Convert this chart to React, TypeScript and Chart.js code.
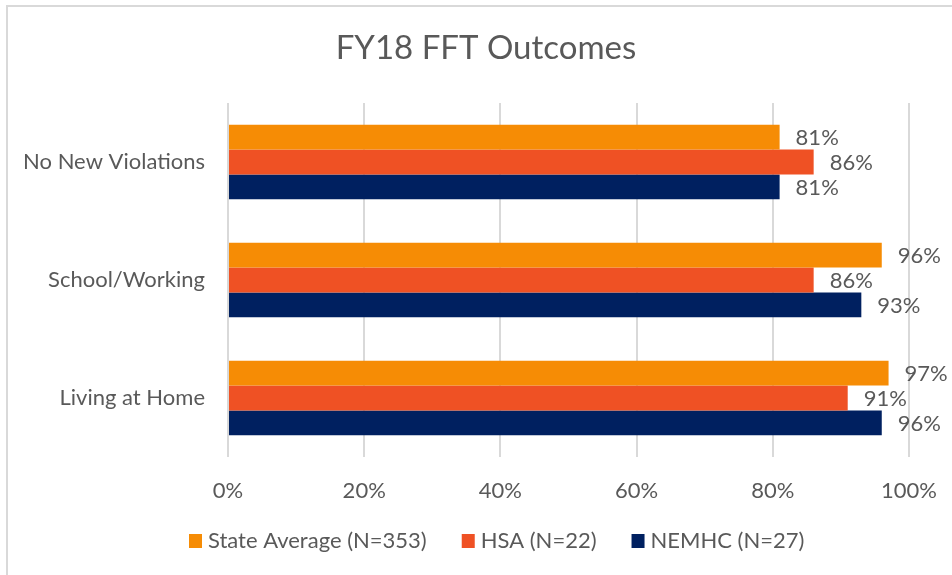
import React, { useEffect, useRef } from "react";
import { Chart, registerables } from "chart.js";

Chart.register(...registerables);

const title = "FY18 FFT Outcomes";
const categories = ["No New Violations", "School/Working", "Living at Home"];
const seriesNames = ["State Average (N=353)", "HSA (N=22)", "NEMHC (N=27)"];
const stateAverage = [81, 96, 97];
const hsa = [86, 86, 91];
const nemhc = [81, 93, 96];
const colors = ["#F68C05", "#EF5124", "#002060"];
const xTicks = [0, 20, 40, 60, 80, 100];

const FONT = "Lato, 'Noto Sans', sans-serif";
const TEXT = "#595959";

const overlay = {
  id: "overlay",
  afterDraw(chart: any) {
    const ctx = chart.ctx;
    ctx.save();
    // frame
    ctx.strokeStyle = "#D9D9D9";
    ctx.lineWidth = 2;
    ctx.beginPath();
    ctx.moveTo(7, 575);
    ctx.lineTo(7, 6);
    ctx.lineTo(952, 6);
    ctx.stroke();
    // title
    ctx.fillStyle = TEXT;
    ctx.font = `33px ${FONT}`;
    ctx.textAlign = "center";
    ctx.textBaseline = "middle";
    ctx.fillText(title, 486, 48);
    // data labels
    ctx.font = `22px ${FONT}`;
    ctx.textAlign = "left";
    ctx.fillStyle = TEXT;
    chart.data.datasets.forEach((ds: any, di: number) => {
      const meta = chart.getDatasetMeta(di);
      meta.data.forEach((bar: any, i: number) => {
        ctx.fillText(ds.data[i] + "%", bar.x + 16, bar.y + 1);
      });
    });
    // legend
    let x = 189;
    const y = 541;
    chart.data.datasets.forEach((ds: any) => {
      ctx.fillStyle = ds.backgroundColor;
      ctx.fillRect(x, y - 7, 13, 14);
      ctx.fillStyle = TEXT;
      ctx.fillText(ds.label, x + 19, y);
      x += 19 + ctx.measureText(ds.label).width + 35;
    });
    ctx.restore();
  },
};

export default function App() {
  const ref = useRef<HTMLCanvasElement>(null);
  useEffect(() => {
    const chart = new Chart(ref.current!, {
      type: "bar",
      data: {
        labels: categories,
        datasets: [
          { label: seriesNames[0], data: stateAverage, backgroundColor: colors[0] },
          { label: seriesNames[1], data: hsa, backgroundColor: colors[1] },
          { label: seriesNames[2], data: nemhc, backgroundColor: colors[2] },
        ],
      },
      options: {
        indexAxis: "y",
        responsive: false,
        animation: false,
        maintainAspectRatio: false,
        layout: { padding: { left: 0, right: 43, top: 103, bottom: 0 } },
        datasets: { bar: { barPercentage: 1, categoryPercentage: 0.63 } },
        plugins: { legend: { display: false }, tooltip: { enabled: false }, title: { display: false } },
        scales: {
          x: {
            min: 0,
            max: 100,
            afterBuildTicks(scale: any) {
              scale.ticks = xTicks.map((v) => ({ value: v }));
            },
            afterFit(scale: any) {
              scale.height = 575 - 457;
              scale.paddingLeft = 0;
              scale.paddingRight = 0;
            },
            ticks: {
              padding: 21,
              color: TEXT,
              font: { family: FONT, size: 22 },
              callback: (v: any) => v + "%",
            },
            grid: { color: "#D9D9D9", lineWidth: 2, drawTicks: false },
            border: { display: false },
          },
          y: {
            afterFit(scale: any) {
              scale.width = 228;
              scale.paddingTop = 0;
              scale.paddingBottom = 0;
            },
            ticks: {
              padding: 23,
              color: TEXT,
              font: { family: FONT, size: 22 },
            },
            grid: { display: false, drawTicks: false },
            border: { display: false },
          },
        },
      },
      plugins: [overlay],
    } as any);
    return () => chart.destroy();
  }, []);
  return (
    <div style={{ position: "fixed", left: 0, top: 0, width: 952, height: 575, background: "#fff" }}>
      <canvas ref={ref} width={952} height={575} style={{ width: 952, height: 575 }} />
    </div>
  );
}
